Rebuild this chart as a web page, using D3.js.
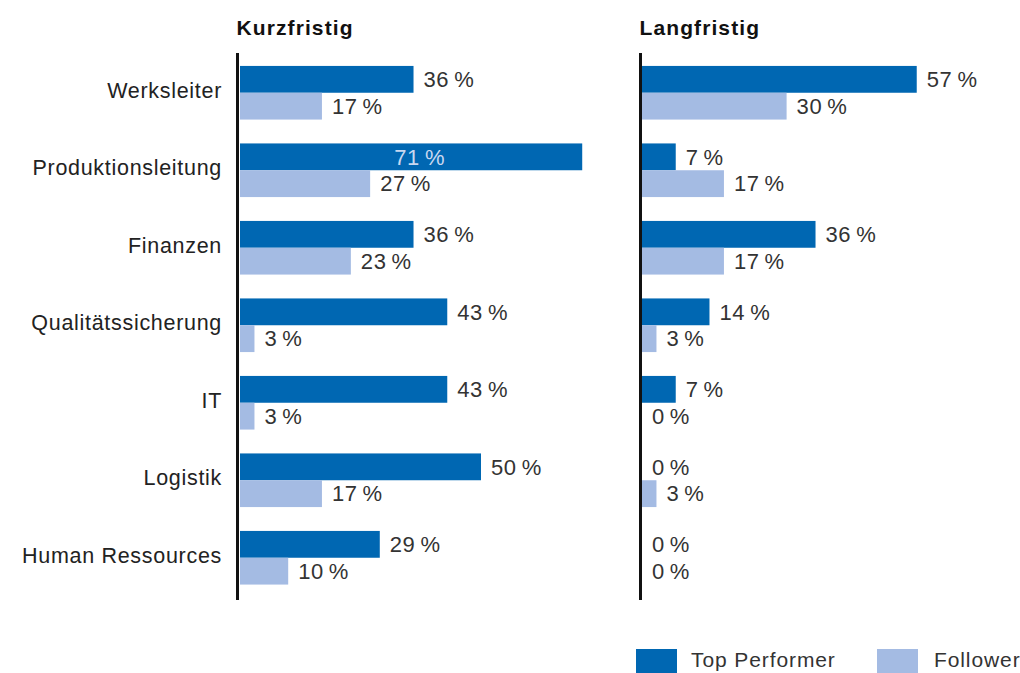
<!DOCTYPE html>
<html>
<head>
<meta charset="utf-8">
<script src="https://cdn.jsdelivr.net/npm/d3@7"></script>
<style>
  body { margin: 0; background: #fff; }
  text { font-family: "Liberation Sans", Arial, sans-serif; fill: #333; }
</style>
</head>
<body>
<div id="chart"></div>
<script>
// Categories and values (percent)
var categories = ["Werksleiter", "Produktionsleitung", "Finanzen", "Qualitätssicherung", "IT", "Logistik", "Human Ressources"];
var kurzTop      = [36, 71, 36, 43, 43, 50, 29];
var kurzFollower = [17, 27, 23, 3, 3, 17, 10];
var langTop      = [57, 7, 36, 14, 7, 0, 0];
var langFollower = [30, 17, 17, 3, 0, 3, 0];
var seriesNames = ["Top Performer", "Follower"];
var panelTitles = ["Kurzfristig", "Langfristig"];

var width = 1020, height = 673;
var colors = {"Top Performer": "#0067b2", "Follower": "#a4bbe3"};

var svg = d3.select("#chart").append("svg")
    .attr("width", width)
    .attr("height", height);

// vertical layout shared by both panels
var y = d3.scaleBand()
    .domain(categories)
    .range([54, 596.5])
    .paddingInner(0.308)
    .paddingOuter(0.154);

var ySub = d3.scaleBand()
    .domain(seriesNames)
    .range([0, y.bandwidth()]);

var panels = [
    {title: panelTitles[0], axisX: 237.5, start: 240, top: kurzTop, follower: kurzFollower},
    {title: panelTitles[1], axisX: 640.5, start: 642, top: langTop, follower: langFollower}
];

panels.forEach(function(p, pi) {
    var x = d3.scaleLinear().domain([0, 100]).range([p.start, p.start + 482]);

    var rows = categories.map(function(c, i) {
        return {cat: c, values: [
            {name: seriesNames[0], value: p.top[i]},
            {name: seriesNames[1], value: p.follower[i]}
        ]};
    });

    // title
    svg.append("text")
        .attr("x", p.axisX - 1)
        .attr("y", 35)
        .style("font-size", "21px")
        .style("font-weight", "bold")
        .style("letter-spacing", "1.1px")
        .style("fill", "#111")
        .text(p.title);

    var groups = svg.selectAll(".grp" + pi)
        .data(rows)
        .enter().append("g")
        .attr("class", "grp" + pi)
        .attr("transform", function(d) { return "translate(0," + y(d.cat) + ")"; });

    groups.selectAll("rect")
        .data(function(d) { return d.values; })
        .enter().append("rect")
        .attr("x", x(0))
        .attr("y", function(d) { return ySub(d.name); })
        .attr("width", function(d) { return x(d.value) - x(0); })
        .attr("height", ySub.bandwidth())
        .attr("fill", function(d) { return colors[d.name]; });

    groups.selectAll("text.val")
        .data(function(d) { return d.values; })
        .enter().append("text")
        .attr("class", "val")
        .attr("x", function(d) {
            // label would run into the next panel -> put it inside the bar
            if (pi === 0 && d.value > 60) return x(32);
            return x(d.value) + 10;
        })
        .attr("y", function(d) { return ySub(d.name) + ySub.bandwidth() / 2; })
        .attr("dy", "0.35em")
        .style("font-size", "22px")
        .style("letter-spacing", "0.6px")
        .style("fill", function(d) { return (pi === 0 && d.value > 60) ? "#c9d8f0" : "#333"; })
        .text(function(d) { return d.value + "\u2009%"; });

    // axis line
    svg.append("line")
        .attr("x1", p.axisX).attr("x2", p.axisX)
        .attr("y1", 53).attr("y2", 600)
        .attr("stroke", "#111")
        .attr("stroke-width", 3);
});

// category labels
svg.selectAll(".cat")
    .data(categories)
    .enter().append("text")
    .attr("class", "cat")
    .attr("x", 222)
    .attr("y", function(d) { return y(d) + y.bandwidth() / 2; })
    .attr("dy", "0.24em")
    .attr("text-anchor", "end")
    .style("font-size", "21.5px")
    .style("letter-spacing", "0.7px")
    .style("fill", "#222")
    .text(function(d) { return d; });

// legend
var legendX = [636, 877];
var legend = svg.selectAll(".legend")
    .data(seriesNames)
    .enter().append("g")
    .attr("class", "legend")
    .attr("transform", function(d, i) { return "translate(" + legendX[i] + ",649)"; });

legend.append("rect")
    .attr("width", 41)
    .attr("height", 25)
    .attr("fill", function(d) { return colors[d]; });

legend.append("text")
    .attr("x", function(d, i) { return i === 0 ? 55 : 57; })
    .attr("y", 18)
    .style("font-size", "21px")
    .style("letter-spacing", "0.9px")
    .text(function(d) { return d; });
</script>
</body>
</html>
